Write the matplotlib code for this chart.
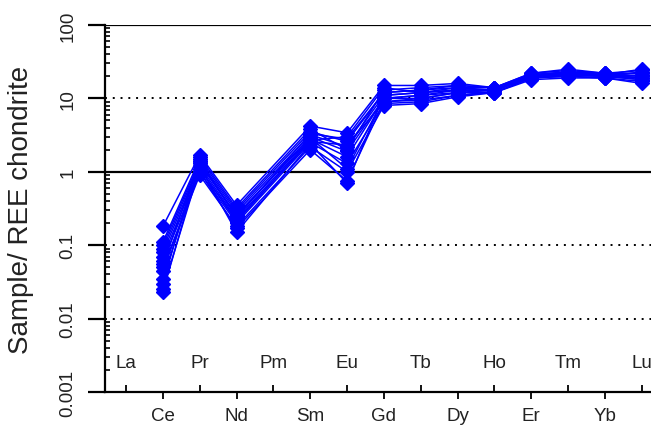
import numpy as np
import matplotlib
matplotlib.use('Agg')
import matplotlib.pyplot as plt
from matplotlib.ticker import LogLocator, FixedLocator, NullFormatter

plt.rcParams['font.family'] = ['Liberation Sans', 'DejaVu Sans']

# Elementi REE (ordine del diagramma)
elementi = ['La', 'Ce', 'Pr', 'Nd', 'Pm', 'Sm', 'Eu', 'Gd', 'Tb', 'Dy', 'Ho', 'Er', 'Tm', 'Yb', 'Lu']
# Elementi misurati (La e Pm assenti)
misurati = ['Ce', 'Pr', 'Nd', 'Sm', 'Eu', 'Gd', 'Tb', 'Dy', 'Ho', 'Er', 'Tm', 'Yb', 'Lu']

# Campione / condrite, un campione per riga
campioni = [
    [0.18, 1.7, 0.35, 4.2, 3.4, 15, 15, 16, 14, 22, 24, 22, 24],
    [0.11, 1.5, 0.30, 3.5, 2.6, 12, 13, 15, 14, 21, 23, 22, 22],
    [0.10, 1.4, 0.28, 3.2, 2.2, 11, 12, 14, 13, 20, 22, 21, 20],
    [0.09, 1.3, 0.25, 3.0, 1.9, 10, 11, 13, 13, 20, 21, 20, 19],
    [0.08, 1.2, 0.23, 2.8, 1.6, 10, 10, 12, 13, 19, 21, 20, 18],
    [0.07, 1.1, 0.22, 2.6, 2.3, 9, 10, 12, 12, 19, 20, 19, 17],
    [0.06, 1.0, 0.20, 2.5, 1.3, 8.5, 9, 11, 12, 18, 19, 19, 16],
    [0.05, 0.9, 0.18, 2.2, 1.0, 8, 8.5, 10.5, 12, 19, 20, 19, 21],
    [0.045, 1.0, 0.17, 2.0, 0.75, 9, 9.5, 11, 12.5, 20, 22, 20, 23],
    [0.035, 1.2, 0.15, 2.4, 0.7, 11, 12, 13, 13, 21, 23, 21, 25],
    [0.03, 1.6, 0.32, 3.8, 2.0, 13, 14, 15, 14, 22, 25, 22, 20],
    [0.023, 1.3, 0.26, 2.9, 1.1, 10, 11, 12, 13, 20, 22, 21, 19],
    [0.025, 1.1, 0.21, 2.7, 3.0, 14, 12, 13, 13, 21, 22, 21, 22],
    [0.055, 1.4, 0.24, 3.3, 2.8, 12, 13, 14, 14, 20, 21, 20, 18],
]

pos = {el: i + 1 for i, el in enumerate(elementi)}
x_mis = [pos[el] for el in misurati]

fig = plt.figure(figsize=(6.51, 4.27), dpi=100)
ax = fig.add_axes([105 / 651, 1 - 393 / 427, 546 / 651, 367 / 427])

# Linee di riferimento
for v in [100, 1]:
    ax.axhline(v, color='black', lw=1.6, zorder=1)
for v in [10, 0.1, 0.01]:
    ax.axhline(v, color='black', lw=1.4, ls=(0, (1, 3)), zorder=1)

for s in campioni:
    ax.plot(x_mis, s, color='#0000ff', lw=1.1, marker='D', markersize=7,
            markerfacecolor='#0000ff', markeredgecolor='#0000ff', zorder=3)

ax.set_yscale('log')
ax.set_ylim(0.001, 100)
ax.set_xlim(0.43, 15.25)

# Asse y
ax.yaxis.set_major_locator(FixedLocator([0.001, 0.01, 0.1, 1, 10, 100]))
ax.set_yticklabels(['0.001', '0.01', '0.1', '1', '10', '100'], rotation=90,
                   va='center', fontsize=13.5, color='#222222')
ax.yaxis.set_minor_locator(LogLocator(base=10, subs=np.arange(2, 10)))
ax.yaxis.set_minor_formatter(NullFormatter())
ax.tick_params(axis='y', which='major', direction='out', length=12.5, width=1.6, pad=8)
ax.tick_params(axis='y', which='minor', direction='in', length=3.5, width=1.2)

# Asse x: etichette alternate sopra/sotto
x_sotto = [pos[el] for el in elementi[1::2]]
x_sopra = [pos[el] for el in elementi[0::2]]
ax.set_xticks(x_sotto)
ax.set_xticklabels(elementi[1::2], fontsize=13.5, color='#222222')
ax.set_xticks(x_sopra, minor=True)
ax.set_xticklabels(elementi[0::2], minor=True, fontsize=13.5, color='#222222')
ax.tick_params(axis='x', which='major', direction='out', length=5, width=1.3, pad=6)
ax.tick_params(axis='x', which='minor', direction='in', length=5, width=1.3, pad=-27)

ax.spines['top'].set_visible(False)
ax.spines['right'].set_visible(False)
ax.spines['left'].set_linewidth(1.6)
ax.spines['bottom'].set_linewidth(1.6)

ax.set_ylabel('Sample/ REE chondrite', fontsize=20, color='#222222')
ax.yaxis.set_label_coords(-0.13, 0.5)

fig.savefig('out.png', dpi=100)
